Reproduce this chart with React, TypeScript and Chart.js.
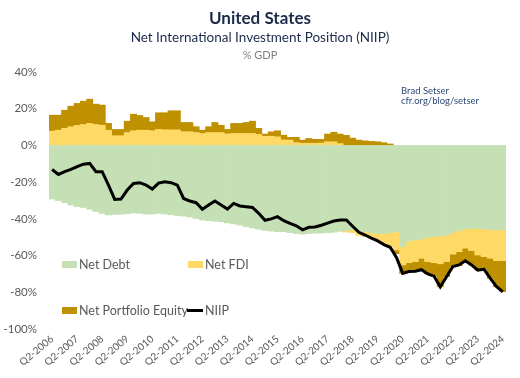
import { useEffect, useRef } from "react";
import { Chart, registerables } from "chart.js";

Chart.register(...registerables);

const quarters = [
  "Q2-2006", "Q3-2006", "Q4-2006", "Q1-2007", "Q2-2007", "Q3-2007", "Q4-2007", "Q1-2008",
  "Q2-2008", "Q3-2008", "Q4-2008", "Q1-2009", "Q2-2009", "Q3-2009", "Q4-2009", "Q1-2010",
  "Q2-2010", "Q3-2010", "Q4-2010", "Q1-2011", "Q2-2011", "Q3-2011", "Q4-2011", "Q1-2012",
  "Q2-2012", "Q3-2012", "Q4-2012", "Q1-2013", "Q2-2013", "Q3-2013", "Q4-2013", "Q1-2014",
  "Q2-2014", "Q3-2014", "Q4-2014", "Q1-2015", "Q2-2015", "Q3-2015", "Q4-2015", "Q1-2016",
  "Q2-2016", "Q3-2016", "Q4-2016", "Q1-2017", "Q2-2017", "Q3-2017", "Q4-2017", "Q1-2018",
  "Q2-2018", "Q3-2018", "Q4-2018", "Q1-2019", "Q2-2019", "Q3-2019", "Q4-2019", "Q1-2020",
  "Q2-2020", "Q3-2020", "Q4-2020", "Q1-2021", "Q2-2021", "Q3-2021", "Q4-2021", "Q1-2022",
  "Q2-2022", "Q3-2022", "Q4-2022", "Q1-2023", "Q2-2023", "Q3-2023", "Q4-2023", "Q1-2024",
  "Q2-2024",
];

const netDebt = [
  -29.2, -30, -31.2, -32.5, -33.4, -33.8, -34.8, -36, -37, -37.9,
  -37.6, -37.5, -37.2, -36.8, -37, -37.4, -37.4, -37, -37.4, -37.8,
  -38.2, -38.5, -39, -39.8, -40.6, -41, -41.3, -41.6, -42.2, -42.8,
  -43.4, -44.2, -45, -45.7, -46.3, -46.7, -47, -47, -47.5, -48,
  -48.3, -48, -47.8, -47.8, -47.5, -47.3, -46.8, -46.4, -46, -46.5,
  -47, -47.5, -48, -48, -47.5, -47, -55.2, -52, -51.5, -51,
  -50, -49.5, -49.5, -49, -47.5, -46.5, -45.5, -45.2, -45.2, -45.5,
  -46, -46, -46,
];

const netFDI = [
  7.8, 8.3, 9.3, 10.2, 10.9, 11.4, 12, 11.4, 11, 8.3,
  5.3, 5.3, 7, 8, 8.3, 8.3, 8, 8.7, 8.5, 8.5,
  8.5, 7.5, 7.5, 7, 6.5, 7, 7, 7, 6.3, 6.5,
  6.5, 6.5, 6.5, 6, 5, 5, 4.7, 3, 2.9, 1.5,
  1.2, 1.2, 1.2, 1.3, 2, 2, 1, -0.8, -1.5, -2.5,
  -2.7, -3.1, -3.5, -5.3, -7.7, -10, -9.9, -11.9, -11.8, -10.5,
  -13.3, -14.4, -15, -14.3, -11.7, -11.4, -10.5, -12.1, -14.5, -15.1,
  -15.5, -16.8, -16.8,
];

const netPortfolioEquity = [
  8.7, 8.2, 9.9, 11.2, 12, 12.7, 13.2, 11.1, 11, 3.7,
  3.4, 3.4, 6.2, 9, 8, 6.9, 4.9, 9.1, 9.3, 10.4,
  10.4, 5, 5, 3.2, 1.8, 3.2, 5.5, 4, 2.4, 5.5,
  5.5, 6, 6.7, 3.3, 1.2, 2.4, 3.3, 2.6, 1.5, 2.9,
  1.7, 2.6, 2.1, 2, 4.2, 5.2, 5.2, 5.5, 4, 2.9,
  2.5, 2.2, 2, 1.5, 0.8, -2, -4.6, -4.8, -5.2, -6.1,
  -6.7, -7.3, -12.5, -8.2, -6.8, -7.6, -7.3, -7.8, -8.2, -6.9,
  -10.9, -14.2, -16.9,
];

const niip = [
  -13.1, -15.8, -14.3, -13.1, -11.6, -10.2, -9.8, -14.3, -14.3, -21.6,
  -29.4, -29.2, -24.3, -20.7, -20.3, -21.6, -23.8, -20.5, -19.8, -20.3,
  -21.6, -28.9, -30.3, -31.2, -34.8, -32.5, -30.3, -32.5, -34.7, -31.6,
  -33, -33.4, -33.8, -37, -40.8, -40, -38.8, -41, -42.5, -43.8,
  -46, -44.6, -44.4, -43.5, -42.3, -41.2, -40.6, -40.6, -44, -47.3,
  -48.8, -50.5, -52, -54, -55.5, -61, -69.7, -68.7, -68.5, -67.7,
  -70, -71.2, -77, -71.5, -66, -65.1, -62.8, -65.1, -67.9, -67.5,
  -72.4, -77, -79.7,
];

const yTicks = [40, 20, 0, -20, -40, -60, -80, -100];

const FONT = "Lato, 'Noto Sans', sans-serif";
const GREEN = "#c5e0b4";
const YELLOW = "#ffd966";
const GOLD = "#bf9000";
const NAVY = "#1c2b4a";
const GREY = "#595959";

export default function App() {
  const ref = useRef<HTMLCanvasElement>(null);

  useEffect(() => {
    const chart = new Chart(ref.current!, {
      type: "bar",
      data: {
        labels: quarters,
        datasets: [
          {
            type: "line",
            label: "NIIP",
            data: niip,
            borderColor: "#000000",
            backgroundColor: "#000000",
            borderWidth: 3,
            pointRadius: 0,
            tension: 0,
            fill: false,
            order: 0,
            stack: "niip",
          } as any,
          { label: "Net Debt", data: netDebt, backgroundColor: GREEN, borderWidth: 0, order: 1, stack: "s" },
          { label: "Net FDI", data: netFDI, backgroundColor: YELLOW, borderWidth: 0, order: 1, stack: "s" },
          { label: "Net Portfolio Equity", data: netPortfolioEquity, backgroundColor: GOLD, borderWidth: 0, order: 1, stack: "s" },
        ],
      },
      options: {
        responsive: false,
        animation: false,
        layout: { padding: { top: 72, right: 14, left: 0, bottom: 0 } },
        datasets: { bar: { barPercentage: 1, categoryPercentage: 1 } } as any,
        plugins: { legend: { display: false }, tooltip: { enabled: false }, title: { display: false } },
        scales: {
          x: {
            stacked: true,
            grid: { display: false, drawTicks: false },
            border: { display: false },
            afterFit: (s: any) => { s.height = 49; },
            ticks: {
              autoSkip: false,
              minRotation: 40,
              maxRotation: 40,
              padding: 4,
              color: GREY,
              font: { family: FONT, size: 10 },
              callback: (_v: any, i: number) => (i % 4 === 0 ? quarters[i] : ""),
            },
          },
          y: {
            stacked: true,
            min: -100,
            max: 40,
            grid: { display: false, drawTicks: false },
            border: { display: false },
            afterFit: (s: any) => { s.width = 49; },
            afterBuildTicks: (s: any) => { s.ticks = yTicks.map((v) => ({ value: v })); },
            ticks: {
              padding: 12,
              color: GREY,
              font: { family: FONT, size: 11.5 },
              callback: (v: any) => `${v}%`,
            },
          },
        },
      },
    });
    return () => chart.destroy();
  }, []);

  const abs = (o: any) => ({ position: "absolute" as const, whiteSpace: "nowrap" as const, fontFamily: FONT, ...o });

  return (
    <div style={{ position: "absolute", left: 0, top: 0, width: 520, height: 378, background: "#fff", overflow: "hidden" }}>
      <canvas ref={ref} width={520} height={378} style={{ position: "absolute", left: 0, top: 0 }} />
      <div style={abs({ left: 0, width: 520, top: 8, textAlign: "center", fontSize: 17, lineHeight: "20px", fontWeight: 700, color: NAVY })}>
        United States
      </div>
      <div style={abs({ left: 0, width: 520, top: 29, textAlign: "center", fontSize: 13.5, lineHeight: "16px", color: NAVY })}>
        Net International Investment Position (NIIP)
      </div>
      <div style={abs({ left: 0, width: 520, top: 48, textAlign: "center", fontSize: 11, lineHeight: "14px", color: "#7f7f7f" })}>
        % GDP
      </div>
      <div style={abs({ left: 401, top: 86, fontSize: 9.5, lineHeight: "10px", color: "#2f4a78" })}>Brad Setser</div>
      <div style={abs({ left: 401, top: 96, fontSize: 9.5, lineHeight: "10px", color: "#2f4a78" })}>cfr.org/blog/setser</div>

      <div style={abs({ left: 62, top: 261, width: 15, height: 7, background: GREEN })} />
      <div style={abs({ left: 79, top: 257, fontSize: 12.5, lineHeight: "15px", color: GREY })}>Net Debt</div>
      <div style={abs({ left: 188, top: 261, width: 15, height: 7, background: YELLOW })} />
      <div style={abs({ left: 205, top: 257, fontSize: 12.5, lineHeight: "15px", color: GREY })}>Net FDI</div>
      <div style={abs({ left: 62, top: 307, width: 15, height: 7, background: GOLD })} />
      <div style={abs({ left: 79, top: 303, fontSize: 12.5, lineHeight: "15px", color: GREY })}>Net Portfolio Equity</div>
      <div style={abs({ left: 187, top: 309, width: 16, height: 3, background: "#000" })} />
      <div style={abs({ left: 205, top: 303, fontSize: 12.5, lineHeight: "15px", color: GREY })}>NIIP</div>
    </div>
  );
}
